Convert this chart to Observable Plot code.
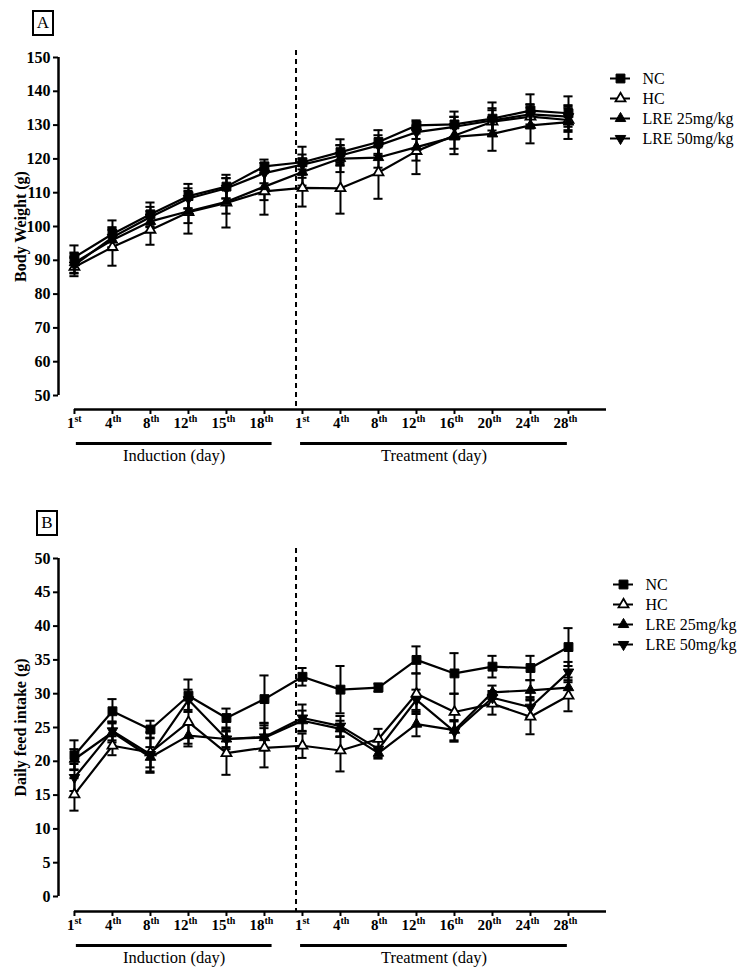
<!DOCTYPE html>
<html>
<head>
<meta charset="utf-8">
<script src="https://cdn.jsdelivr.net/npm/d3@7"></script>
<script src="https://cdn.jsdelivr.net/npm/@observablehq/plot@0.6"></script>
<style>
  body { margin: 0; background: white; }
  #page { position: relative; width: 748px; height: 971px; background: white; overflow: hidden; }
  .panel { position: absolute; left: 0; width: 748px; }
  .panel svg { position: absolute; }
  .tag { position: absolute; z-index: 5; box-sizing: border-box; border: 2.5px solid black; background: white; font-family: 'Liberation Serif', 'Times New Roman', serif; font-size: 17px; line-height: 21px; text-align: center; color: black; }
</style>
</head>
<body>
<div id="page">
  <div class="panel" id="panelA" style="top:0;height:485px;"><div class="tag" style="left:32px;top:10px;width:22px;height:26px;">A</div></div>
  <div class="panel" id="panelB" style="top:485px;height:486px;"><div class="tag" style="left:36px;top:25px;width:22px;height:26px;">B</div></div>
</div>
<script>
// ---------- data ----------
const dayIndex = [0,1,2,3,4,5,6,7,8,9,10,11,12,13];
const dayNumbers = ["1","4","8","12","15","18","1","4","8","12","16","20","24","28"];
const daySuffixes = ["st","th","th","th","th","th","st","th","th","th","th","th","th","th"];
const groups = ["NC","HC","LRE 25mg/kg","LRE 50mg/kg"];
const phaseNames = ["Induction (day)","Treatment (day)"];
const phaseStart = [0.05, 5.95];
const phaseEnd = [5.2, 12.97];
const dividerAt = 5.83;

// Panel A: body weight (g), mean and error
const bwNC     = [90.9, 97.8, 103.6, 109.0, 111.8, 117.8, 119.0, 122.0, 125.0, 129.9, 130.2, 131.9, 134.3, 133.5];
const bwHC     = [88.0, 93.9,  99.0, 104.2, 107.0, 110.4, 111.4, 111.3, 116.0, 122.3, 126.9, 131.0, 132.5, 131.5];
const bwLRE25  = [89.3, 96.0, 101.5, 104.5, 107.3, 111.8, 116.1, 120.1, 120.4, 123.5, 126.5, 127.4, 129.9, 130.9];
const bwLRE50  = [88.6, 96.8, 102.8, 108.3, 111.3, 115.8, 118.3, 121.0, 124.0, 127.9, 129.5, 131.4, 133.2, 132.5];
const bwNCerr    = [3.5, 4.0, 3.5, 3.6, 3.5, 2.0, 4.6, 3.8, 3.5, 1.5, 3.8, 4.8, 4.8, 5.0];
const bwHCerr    = [2.7, 5.5, 4.4, 6.3, 7.3, 6.9, 5.5, 7.5, 7.8, 6.8, 5.5, 4.0, 3.5, 3.5];
const bwLRE25err = [3.0, 3.0, 3.0, 3.5, 3.5, 4.0, 4.0, 4.0, 3.0, 4.0, 3.5, 5.0, 5.3, 5.0];
const bwLRE50err = [2.5, 3.0, 3.0, 3.0, 3.0, 3.0, 3.0, 3.0, 3.0, 2.0, 3.0, 3.0, 3.0, 3.0];

// Panel B: daily feed intake (g), mean and error
const fiNC     = [20.9, 27.4, 24.7, 29.7, 26.4, 29.2, 32.5, 30.6, 30.9, 35.0, 33.0, 34.0, 33.8, 36.9];
const fiHC     = [15.1, 22.3, 21.3, 25.8, 21.2, 22.0, 22.3, 21.6, 23.3, 30.0, 27.3, 28.5, 26.6, 29.7];
const fiLRE25  = [20.3, 24.3, 20.6, 23.8, 23.3, 23.5, 26.0, 24.8, 21.2, 25.5, 24.6, 30.2, 30.5, 30.9];
const fiLRE50  = [17.6, 24.5, 21.0, 29.1, 23.3, 23.6, 26.4, 25.2, 21.8, 29.1, 24.4, 29.4, 28.0, 33.2];
const fiNCerr    = [2.2, 1.8, 1.3, 2.4, 1.4, 3.5, 1.3, 3.5, 0.6, 2.0, 3.0, 1.6, 1.8, 2.8];
const fiHCerr    = [2.4, 1.4, 3.0, 3.2, 3.2, 2.9, 1.8, 3.1, 1.5, 3.0, 2.7, 1.6, 2.6, 2.3];
const fiLRE25err = [1.5, 1.5, 1.5, 1.6, 1.5, 1.8, 1.5, 1.2, 0.8, 1.8, 1.5, 1.0, 1.5, 1.5];
const fiLRE50err = [2.0, 1.4, 2.5, 1.5, 1.2, 2.0, 2.0, 1.5, 1.2, 1.5, 1.5, 1.0, 1.5, 1.5];

const weightTicks = [50,60,70,80,90,100,110,120,130,140,150];
const intakeTicks = [0,5,10,15,20,25,30,35,40,45,50];

// ---------- styles ----------
const FONT = "'Liberation Serif', 'Times New Roman', serif";
const groupStyle = {
  "NC":          {symbol: "square",   fill: "black", r: 5.0, rotate: 0},
  "HC":          {symbol: "triangle", fill: "white", r: 3.7, rotate: 0},
  "LRE 25mg/kg": {symbol: "triangle", fill: "black", r: 3.9, rotate: 0},
  "LRE 50mg/kg": {symbol: "triangle", fill: "black", r: 3.9, rotate: 180}
};
const xDomain = [-0.42, 14];
const capHalf = 0.12;

function rowsOf(valueArrays, errArrays) {
  const rows = [];
  groups.forEach((g, k) => {
    dayIndex.forEach(i => rows.push({g, i, v: valueArrays[k][i], e: errArrays[k][i]}));
  });
  return rows;
}

function dotMarks(rows) {
  return groups.map(g => {
    const s = groupStyle[g];
    return Plot.dot(rows.filter(d => d.g === g), {
      x: "i", y: "v", symbol: s.symbol, r: s.r, fill: s.fill,
      stroke: "black", strokeWidth: s.fill === "white" ? 1.8 : 1, rotate: s.rotate
    });
  });
}

function makePanel({el, height, marginTop, marginBottom, yDomain, yTicks, yLabel, rows, legendLeft, legendTop}) {
  const yMid = (yTicks[0] + yTicks[yTicks.length - 1]) / 2;
  const chart = Plot.plot({
    width: 748, height, marginLeft: 58, marginRight: 142, marginTop, marginBottom,
    x: {domain: xDomain},
    y: {domain: yDomain},
    style: {fontFamily: FONT, background: "white", color: "black"},
    marks: [
      Plot.ruleX([dividerAt], {stroke: "black", strokeWidth: 2, strokeDasharray: "5,4"}),
      Plot.ruleX([xDomain[0]], {y1: yTicks[0], y2: yTicks[yTicks.length - 1], stroke: "black", strokeWidth: 2.5}),
      Plot.axisY({ticks: yTicks, tickSize: 5, tickPadding: 3, fontWeight: "bold", fontSize: 16, strokeWidth: 2, label: null, anchor: "left"}),
      Plot.ruleY([yDomain[0]], {x1: 0, x2: xDomain[1], stroke: "black", strokeWidth: 2.5}),
      Plot.axisX({ticks: dayIndex, tickSize: 5, tickFormat: () => "", strokeWidth: 2, label: null, anchor: "bottom"}),
      Plot.text(dayIndex, {x: d => d, text: d => dayNumbers[d], frameAnchor: "bottom", textAnchor: "end", lineAnchor: "middle", dy: 13.5, fontWeight: "bold", fontSize: 15}),
      Plot.text(dayIndex, {x: d => d, text: d => daySuffixes[d], frameAnchor: "bottom", textAnchor: "start", lineAnchor: "middle", dy: 9.5, fontWeight: "bold", fontSize: 10}),
      Plot.ruleY([0, 1], {y: () => yDomain[0], x1: k => phaseStart[k], x2: k => phaseEnd[k], dy: 34, stroke: "black", strokeWidth: 3}),
      Plot.text([0, 1], {x: k => (phaseStart[k] + phaseEnd[k]) / 2, text: k => phaseNames[k], frameAnchor: "bottom", textAnchor: "middle", lineAnchor: "middle", dy: 46, fontSize: 16.5}),
      Plot.text([yLabel], {y: () => yMid, text: d => d, frameAnchor: "left", textAnchor: "middle", lineAnchor: "middle", dx: -38, rotate: -90, fontWeight: "bold", fontSize: 16}),
      Plot.ruleX(rows, {x: "i", y1: d => d.v - d.e, y2: d => d.v + d.e, stroke: "black", strokeWidth: 2}),
      Plot.ruleY(rows, {y: d => d.v + d.e, x1: d => d.i - capHalf, x2: d => d.i + capHalf, stroke: "black", strokeWidth: 2}),
      Plot.ruleY(rows, {y: d => d.v - d.e, x1: d => d.i - capHalf, x2: d => d.i + capHalf, stroke: "black", strokeWidth: 2}),
      Plot.line(rows, {x: "i", y: "v", z: "g", stroke: "black", strokeWidth: 2.2, strokeLinejoin: "round"}),
      ...dotMarks(rows)
    ]
  });
  chart.style.left = "0px";
  chart.style.top = "0px";
  el.appendChild(chart);

  const legend = Plot.plot({
    width: 150, height: 80, marginLeft: 0, marginRight: 130, marginTop: 10, marginBottom: 10,
    y: {type: "point", domain: groups, range: [10, 70], padding: 0, axis: null},
    style: {fontFamily: FONT, background: "transparent", color: "black", overflow: "visible"},
    marks: [
      Plot.ruleY(groups, {y: d => d, stroke: "black", strokeWidth: 2}),
      ...groups.map(g => {
        const s = groupStyle[g];
        return Plot.dot([g], {y: d => d, frameAnchor: "middle", symbol: s.symbol, r: s.r, fill: s.fill,
          stroke: "black", strokeWidth: s.fill === "white" ? 1.8 : 1, rotate: s.rotate});
      }),
      Plot.text(groups, {y: d => d, text: d => d, frameAnchor: "right", dx: 12, textAnchor: "start", lineAnchor: "middle", fontSize: 16})
    ]
  });
  legend.style.left = legendLeft + "px";
  legend.style.top = legendTop + "px";
  el.appendChild(legend);
}

makePanel({
  el: document.getElementById("panelA"),
  height: 485, marginTop: 50, marginBottom: 76,
  yDomain: [45.86, 152.07], yTicks: weightTicks, yLabel: "Body Weight (g)",
  rows: rowsOf([bwNC, bwHC, bwLRE25, bwLRE50], [bwNCerr, bwHCerr, bwLRE25err, bwLRE50err]),
  legendLeft: 610, legendTop: 68
});

makePanel({
  el: document.getElementById("panelB"),
  height: 486, marginTop: 63, marginBottom: 60,
  yDomain: [-2.22, 51.48], yTicks: intakeTicks, yLabel: "Daily feed intake (g)",
  rows: rowsOf([fiNC, fiHC, fiLRE25, fiLRE50], [fiNCerr, fiHCerr, fiLRE25err, fiLRE50err]),
  legendLeft: 613, legendTop: 89
});
</script>
</body>
</html>
